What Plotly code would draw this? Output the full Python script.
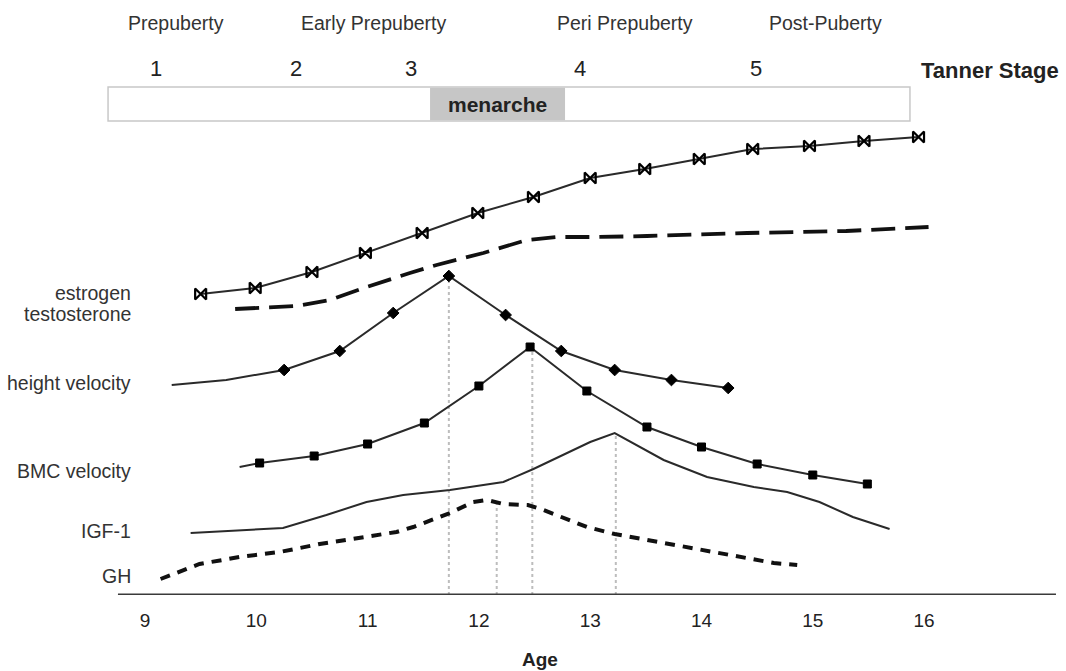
import plotly.graph_objects as go

# ---------------- data (age in years, level in arbitrary schematic units) ----------------
ages_ticks = [9, 10, 11, 12, 13, 14, 15, 16]

estrogen_x = [9.5, 9.99, 10.5, 10.98, 11.49, 11.99, 12.49, 13.0, 13.49, 13.98, 14.46, 14.97, 15.46, 15.95]
estrogen_y = [301, 307, 323, 342, 362, 382, 398, 417, 426, 436, 446, 449, 454, 458]

testo_x = [9.81, 10.36, 10.66, 10.99, 11.38, 11.62, 12.04, 12.43, 12.70, 13.07, 13.51, 14.41, 15.30, 15.90, 16.04]
testo_y = [286, 289, 295, 308, 322, 330, 342, 355, 358, 358, 359, 362, 364, 368, 368]

hv_x = [9.24, 9.73, 10.25, 10.75, 11.23, 11.73, 12.24, 12.74, 13.22, 13.73, 14.24]
hv_y = [210, 215, 225, 244, 282, 319, 280, 244, 225, 215, 207]
hv_marked = [False, False, True, True, True, True, True, True, True, True, True]

bmc_x = [9.85, 10.03, 10.52, 11.0, 11.51, 12.0, 12.46, 12.97, 13.51, 14.0, 14.50, 15.0, 15.49]
bmc_y = [128, 132, 139, 151, 172, 209, 248, 204, 168, 148, 131, 120, 111]
bmc_marked = [False] + [True] * 12

igf_x = [9.41, 10.24, 10.63, 10.99, 11.32, 11.74, 12.22, 12.49, 13.00, 13.22, 13.66, 14.05, 14.47, 14.77, 15.06, 15.36, 15.69]
igf_y = [62, 67, 80, 93, 100, 105, 113, 126, 153, 162, 135, 118, 108, 103, 93, 78, 66]

gh_x = [9.14, 9.34, 9.49, 9.85, 10.21, 10.57, 10.90, 11.26, 11.41, 11.74, 11.95, 12.07, 12.22, 12.44, 12.58,
        12.97, 13.22, 13.57, 13.93, 14.29, 14.65, 14.86]
gh_y = [16, 25, 31, 38, 43, 51, 57, 63, 68, 82, 93, 95, 91, 90, 85, 68, 61, 54, 47, 40, 32, 30]

vline_ages = [11.73, 12.16, 12.48, 13.23]
vline_tops = [319, 92, 248, 162]

phase_labels = ["Prepuberty", "Early Prepuberty", "Peri Prepuberty", "Post-Puberty"]
phase_x = [9.28, 11.05, 13.31, 15.11]

tanner_labels = ["1", "2", "3", "4", "5"]
tanner_x = [9.095, 10.36, 11.39, 12.91, 14.49]

series_labels = ["estrogen", "testosterone", "height velocity", "BMC velocity", "IGF-1", "GH"]
series_label_y = [302, 281, 212, 124, 64, 19]

# ---------------- figure ----------------
FONT = "Liberation Sans, Arial, Helvetica, sans-serif"
LINE = "#2a2a2a"
TXT = "#333333"

fig = go.Figure()

# dotted reference lines
for a, top in zip(vline_ages, vline_tops):
    fig.add_trace(go.Scatter(x=[a, a], y=[0, top], mode="lines",
                             line=dict(color="#bdbdbd", width=2, dash="dot"),
                             hoverinfo="skip", showlegend=False))

fig.add_trace(go.Scatter(x=estrogen_x, y=estrogen_y, mode="lines+markers",
                         line=dict(color=LINE, width=2),
                         marker=dict(symbol="bowtie-open", size=11, color="#000000", opacity=1,
                                     line=dict(width=2.2, color="#000000")),
                         showlegend=False))

fig.add_trace(go.Scatter(x=testo_x, y=testo_y, mode="lines",
                         line=dict(color="#111111", width=3.8, dash="24px,10px"),
                         showlegend=False))

fig.add_trace(go.Scatter(x=hv_x, y=hv_y, mode="lines+markers",
                         line=dict(color=LINE, width=2),
                         marker=dict(symbol="diamond", color="#000000", opacity=1,
                                     line=dict(width=1, color="#000000"),
                                     size=[9 if m else 0 for m in hv_marked]),
                         showlegend=False))

fig.add_trace(go.Scatter(x=bmc_x, y=bmc_y, mode="lines+markers",
                         line=dict(color=LINE, width=2),
                         marker=dict(symbol="square", color="#000000", opacity=1,
                                     line=dict(width=1, color="#000000"),
                                     size=[8 if m else 0 for m in bmc_marked]),
                         showlegend=False))

fig.add_trace(go.Scatter(x=igf_x, y=igf_y, mode="lines",
                         line=dict(color=LINE, width=2), showlegend=False))

fig.add_trace(go.Scatter(x=gh_x, y=gh_y, mode="lines",
                         line=dict(color="#111111", width=4, dash="10px,8px"), showlegend=False))

annotations = []
for t, xv in zip(phase_labels, phase_x):
    annotations.append(dict(x=xv, y=572, text=t, showarrow=False, xanchor="center", yanchor="middle",
                            font=dict(family=FONT, size=19.5, color=TXT)))
for t, xv in zip(tanner_labels, tanner_x):
    annotations.append(dict(x=xv, y=527, text=t, showarrow=False, xanchor="center", yanchor="middle",
                            font=dict(family=FONT, size=22, color="#222222")))
annotations.append(dict(x=15.95, y=525, text="<b>Tanner Stage</b>", showarrow=False, xanchor="left",
                        yanchor="middle", font=dict(family=FONT, size=22, color="#222222")))
annotations.append(dict(x=12.167, y=491, text="<b>menarche</b>", showarrow=False, xanchor="center",
                        yanchor="middle", font=dict(family=FONT, size=21, color="#222222")))
for t, yv in zip(series_labels, series_label_y):
    annotations.append(dict(x=8.892, y=yv, text=t, showarrow=False, xanchor="right", yanchor="middle",
                            font=dict(family=FONT, size=19.5, color=TXT)))
annotations.append(dict(x=12.55, xref="x", y=-0.1076, yref="paper", text="<b>Age</b>", showarrow=False,
                        xanchor="center", yanchor="middle",
                        font=dict(family=FONT, size=19, color="#222222")))

shapes = [
    # stage bar
    dict(type="rect", xref="x", yref="y", x0=8.668, x1=15.873, y0=474, y1=508,
         line=dict(color="#c8c8c8", width=1.5), fillcolor="white", layer="below"),
    dict(type="rect", xref="x", yref="y", x0=11.561, x1=12.774, y0=474.8, y1=507.2,
         line=dict(width=0), fillcolor="#c6c6c6", layer="below"),
    # baseline axis
    dict(type="line", xref="x", yref="y", x0=8.757, x1=17.185, y0=0, y1=0,
         line=dict(color="#3a3a3a", width=3)),
]

fig.update_layout(
    width=1066, height=671,
    margin=dict(l=0, r=0, t=0, b=76),
    paper_bgcolor="white", plot_bgcolor="white",
    showlegend=False,
    annotations=annotations,
    shapes=shapes,
    xaxis=dict(range=[7.6972, 17.275], tickvals=ages_ticks, ticktext=[str(a) for a in ages_ticks],
               showgrid=False, zeroline=False, showline=False, ticks="",
               tickfont=dict(family=FONT, size=19, color="#222222"), ticklabelstandoff=12,
               fixedrange=True),
    yaxis=dict(range=[0, 595], visible=False, fixedrange=True),
)

fig.write_html("out.html")
